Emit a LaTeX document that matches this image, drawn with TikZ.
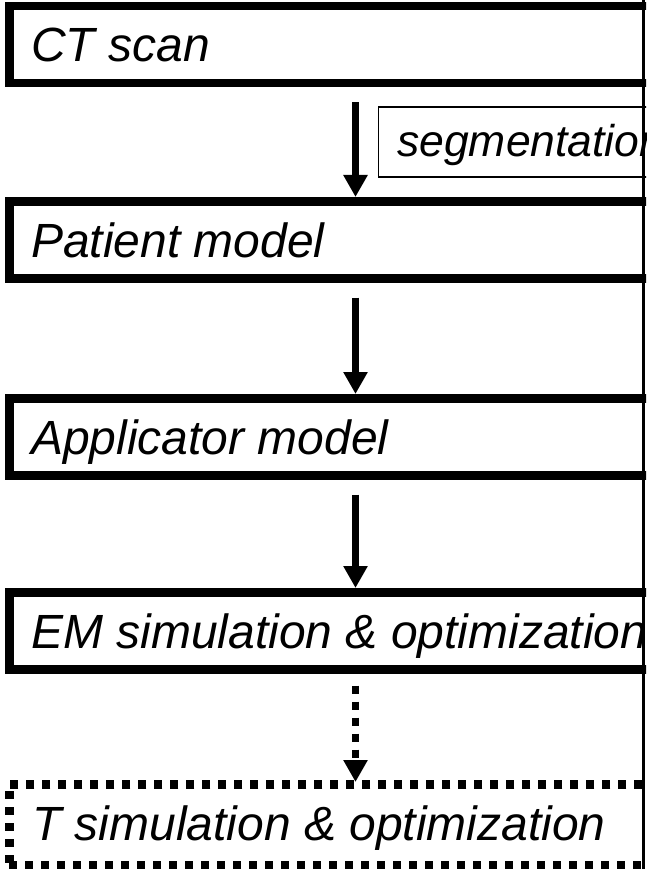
\documentclass[tikz,border=0pt]{standalone}
\usepackage{fontspec}
\setmainfont{Liberation Sans}
\usetikzlibrary{arrows.meta}
\begin{document}
\begin{tikzpicture}[x=1pt,y=-1pt,
  box/.style={draw, line width=8.5pt, rectangle, inner sep=0pt, minimum width=700pt, minimum height=77pt, anchor=north west},
  dotbox/.style={box, minimum height=81pt, dash pattern=on 8pt off 8pt},
  lbl/.style={anchor=base west, inner sep=0pt, font=\fontsize{48}{57}\selectfont\itshape},
  seglbl/.style={anchor=base west, inner sep=0pt, font=\fontsize{44.5}{53}\selectfont\itshape},
  thinbox/.style={draw, line width=1.6pt, rectangle, inner sep=0pt, minimum width=400pt, minimum height=70pt, anchor=north west},
  arr/.style={line width=7.5pt, -{Triangle[width=23pt,length=22pt]}},
  darr/.style={arr, dash pattern=on 8pt off 8pt},
]
\useasboundingbox (0,0) rectangle (646,869);
\clip (0,0) rectangle (646,869);

\coordinate (ax) at (355.5,0);

\node[box] (b1) at (5,2) {};
\node[box] (b2) at (5,197) {};
\node[box] (b3) at (5,394) {};
\node[box] (b4) at (5,588) {};
\node[dotbox] (b5) at (5,780) {};

\node[lbl] (t1) at (31,62) {CT scan};
\node[lbl] (t2) at (31,257) {Patient model};
\node[lbl] (t3) at (31,454) {Applicator model};
\node[lbl] (t4) at (31,648) {EM simulation \& optimization};
\node[lbl] (t5) at (32,840) {T simulation \& optimization};

\node[thinbox] (seg) at (377.5,106.5) {};
\node[seglbl] (segt) at (397,157) {segmentation};

\draw[arr] ([yshift=-15pt]b1.south -| ax) -- (b2.north -| ax);
\draw[arr] ([yshift=-15pt]b2.south -| ax) -- (b3.north -| ax);
\draw[arr] ([yshift=-15pt]b3.south -| ax) -- (b4.north -| ax);
\draw[darr] ([yshift=-12pt]b4.south -| ax) -- ([yshift=-2pt]b5.north -| ax);

\draw[line width=3pt] (643.5,0) -- (643.5,869);
\end{tikzpicture}
\end{document}
